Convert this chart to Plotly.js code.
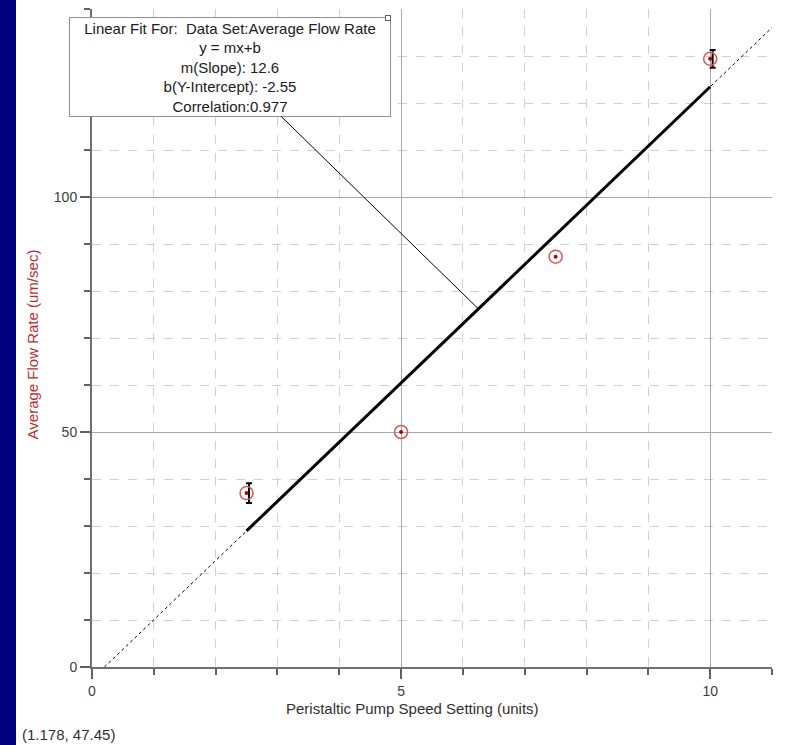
<!DOCTYPE html>
<html>
<head>
<meta charset="utf-8">
<script src="https://cdn.plot.ly/plotly-3.0.1.min.js"></script>
<style>
html,body{margin:0;padding:0;background:#fff;}
#wrap{position:relative;width:792px;height:745px;}
#bar{position:absolute;left:0;top:0;width:16px;height:745px;background:#000080;z-index:5;}
#chart{position:absolute;left:0;top:0;width:792px;height:745px;}
</style>
</head>
<body>
<div id="wrap"><div id="bar"></div><div id="chart"></div></div>
<script>
// Data
const pumpSpeed = [2.5, 5, 7.5, 10];
const flowRate = [37.0, 50.0, 87.3, 129.4];
const flowError = [2.1, 0, 0, 1.9];
const slope = 12.6;
const intercept = -2.55;
const correlation = 0.977;
const fitSolidRange = [2.5, 10];
const fitDottedRange = [0.2, 11];
const cursorText = "(1.178, 47.45)";
const xTitle = "Peristaltic Pump Speed Setting (units)";
const yTitle = "Average Flow Rate (um/sec)";
const fitLabelX = 6.25;

const fitY = x => slope * x + intercept;

const errIdx = flowError.map((e, i) => e > 0 ? i : -1).filter(i => i >= 0);

const traces = [
  { x: fitDottedRange, y: fitDottedRange.map(fitY), mode: 'lines',
    line: {color: '#000', width: 1, dash: 'dot'}, hoverinfo: 'skip', showlegend: false },
  { x: fitSolidRange, y: fitSolidRange.map(fitY), mode: 'lines',
    line: {color: '#000', width: 3}, showlegend: false },
  { x: errIdx.map(i => pumpSpeed[i] + 0.04), y: errIdx.map(i => flowRate[i]), mode: 'markers',
    marker: {size: 1, color: 'rgba(0,0,0,0)'},
    error_y: {type: 'data', array: errIdx.map(i => flowError[i]), visible: true,
              color: '#000', thickness: 2, width: 3}, showlegend: false },
  { x: pumpSpeed, y: flowRate, mode: 'markers',
    marker: {symbol: 'circle-open', size: 13, color: '#d85858', line: {width: 1.5}}, showlegend: false },
  { x: pumpSpeed, y: flowRate, mode: 'markers',
    marker: {symbol: 'circle', size: 4, color: '#b00000'}, showlegend: false }
];

const fitText = 'Linear Fit For:  Data Set:Average Flow Rate<br>y = mx+b<br>m(Slope): ' + slope +
  '<br>b(Y-Intercept): ' + intercept + '<br>Correlation:' + correlation;

const FF = 'Arial, "Liberation Sans", sans-serif';
const axisFont = {family: FF, size: 14, color: '#404040'};

const layout = {
  width: 792, height: 745,
  margin: {l: 92, r: 20, t: 9, b: 78},
  paper_bgcolor: '#fff', plot_bgcolor: '#fff',
  font: {family: FF},
  showlegend: false,
  xaxis: {
    range: [0, 11], dtick: 5, tick0: 0, showgrid: true, gridcolor: '#a8a8a8', gridwidth: 1,
    zeroline: false, showline: true, linecolor: '#707070', linewidth: 2,
    ticks: 'outside', ticklen: 10, tickcolor: '#606060', tickwidth: 2,
    tickfont: axisFont,
    minor: {dtick: 1, showgrid: true, gridcolor: '#d0d0d0', griddash: 'dash', gridwidth: 1,
            ticks: 'outside', ticklen: 6, tickcolor: '#606060', tickwidth: 2}
  },
  yaxis: {
    range: [0, 140], dtick: 50, tick0: 0, showgrid: true, gridcolor: '#a8a8a8', gridwidth: 1,
    zeroline: false, showline: true, linecolor: '#707070', linewidth: 2,
    ticks: 'outside', ticklen: 10, tickcolor: '#606060', tickwidth: 2,
    tickfont: axisFont,
    minor: {dtick: 10, showgrid: true, gridcolor: '#d0d0d0', griddash: 'dash', gridwidth: 1,
            ticks: 'outside', ticklen: 6, tickcolor: '#606060', tickwidth: 2}
  },
  annotations: [
    { x: fitLabelX, y: fitY(fitLabelX), xref: 'x', yref: 'y', text: fitText,
      showarrow: true, arrowhead: 0, arrowwidth: 1, arrowcolor: '#000',
      ax: -248, ay: -242, align: 'center',
      width: 314, height: 92, borderpad: 3, borderwidth: 1, bordercolor: '#909090', bgcolor: '#fff',
      font: {family: FF, size: 15, color: '#202020'} },
    { x: 0.4355, y: 0.9865, xref: 'paper', yref: 'paper', text: '', showarrow: false,
      width: 4, height: 4, borderpad: 0, borderwidth: 1, bordercolor: '#606060', bgcolor: '#fff',
      xanchor: 'center', yanchor: 'middle' },
    { x: 0.471, y: -0.063, xref: 'paper', yref: 'paper', text: xTitle, showarrow: false,
      xanchor: 'center', yanchor: 'middle',
      font: {family: FF, size: 15, color: '#303030'} },
    { x: -0.087, y: 0.49, xref: 'paper', yref: 'paper', text: yTitle, showarrow: false,
      textangle: -90, xanchor: 'center', yanchor: 'middle',
      font: {family: FF, size: 15, color: '#b83030'} },
    { x: -0.106, y: -0.103, xref: 'paper', yref: 'paper', text: cursorText, showarrow: false,
      xanchor: 'left', yanchor: 'middle',
      font: {family: FF, size: 15, color: '#303030'} }
  ]
};

Plotly.newPlot('chart', traces, layout, {displayModeBar: false, staticPlot: true});
</script>
</body>
</html>
